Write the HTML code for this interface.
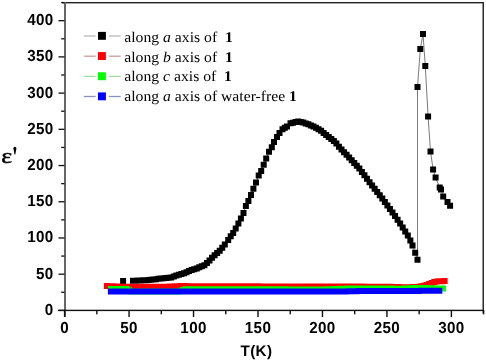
<!DOCTYPE html>
<html><head><meta charset="utf-8"><style>
html,body{margin:0;padding:0;background:#fff;}
body{width:486px;height:362px;overflow:hidden;}
svg{display:block;will-change:transform;filter:blur(0.35px);}
.lab{font-family:"Liberation Sans",sans-serif;font-weight:bold;font-size:15.2px;letter-spacing:0.35px;fill:#000;text-rendering:geometricPrecision;}
.leg{font-family:"Liberation Serif",serif;font-size:15.7px;fill:#000;text-rendering:geometricPrecision;}
</style></head><body>
<svg width="486" height="362" viewBox="0 0 486 362">
<rect width="486" height="362" fill="#fff"/>
<g><polyline points="133.00,280.80 135.55,280.67 138.10,280.55 140.65,280.42 143.20,280.29 145.75,280.14 148.30,279.92 150.85,279.70 153.40,279.47 155.95,279.14 158.50,278.80 161.05,278.46 163.60,278.22 166.15,278.00 168.70,277.77 171.25,277.39 173.80,276.41 176.35,275.48 178.90,274.80 181.45,274.01 184.00,273.15 186.55,272.23 189.10,271.03 191.65,270.11 194.20,269.36 196.75,268.38 199.30,267.37 201.85,266.26 204.40,265.16 206.95,262.95 209.50,260.40 212.05,257.81 214.60,255.21 217.15,252.95 219.70,250.76 222.25,247.64 224.80,244.39 228.20,240.10 230.70,236.20 233.20,232.90 235.70,228.40 238.40,223.50 240.90,218.50 243.50,213.00 245.90,206.10 248.40,201.00 251.00,194.90 253.40,188.80 256.00,182.50 258.70,175.60 261.20,171.10 263.70,164.80 266.20,158.60 269.00,151.80 271.80,147.30 274.00,141.90 277.00,137.00 279.50,133.00 282.50,129.30 284.80,127.80 287.00,126.50 290.50,123.20 293.05,122.63 295.60,122.05 298.15,121.39 300.70,121.89 303.25,122.62 305.80,123.50 308.35,124.37 310.90,125.40 313.45,126.52 316.00,127.80 318.55,129.33 321.10,130.74 323.65,132.95 326.20,134.92 328.75,136.90 331.30,138.89 333.85,140.90 336.40,143.53 338.95,146.67 341.50,149.48 344.05,152.13 346.60,154.79 349.15,157.44 351.70,160.17 354.25,162.91 356.80,165.64 359.35,168.47 361.90,171.92 364.45,175.36 367.00,178.80 369.55,182.20 372.10,185.44 374.65,188.68 377.20,191.91 379.75,195.20 382.30,198.62 384.85,202.04 387.40,205.45 389.95,208.91 392.50,212.49 395.05,216.06 397.60,219.64 400.15,223.40 402.70,227.40 405.25,231.39 407.80,235.39 410.35,240.58 412.50,245.50 415.20,252.70 417.50,259.80 417.50,87.00 420.30,49.00 423.00,33.90 425.30,66.00 428.10,116.60 430.50,151.50 433.10,169.50 435.60,177.50 439.70,187.60 441.00,189.50 443.20,196.50 447.50,202.00 450.10,205.70" fill="none" stroke="#7a7a7a" stroke-width="1"/>
<path d="M120.10 278.00h6.0v6.0h-6.0zM130.00 277.80h6.0v6.0h-6.0zM132.55 277.67h6.0v6.0h-6.0zM135.10 277.55h6.0v6.0h-6.0zM137.65 277.42h6.0v6.0h-6.0zM140.20 277.29h6.0v6.0h-6.0zM142.75 277.14h6.0v6.0h-6.0zM145.30 276.92h6.0v6.0h-6.0zM147.85 276.70h6.0v6.0h-6.0zM150.40 276.47h6.0v6.0h-6.0zM152.95 276.14h6.0v6.0h-6.0zM155.50 275.80h6.0v6.0h-6.0zM158.05 275.46h6.0v6.0h-6.0zM160.60 275.22h6.0v6.0h-6.0zM163.15 275.00h6.0v6.0h-6.0zM165.70 274.77h6.0v6.0h-6.0zM168.25 274.39h6.0v6.0h-6.0zM170.80 273.41h6.0v6.0h-6.0zM173.35 272.48h6.0v6.0h-6.0zM175.90 271.80h6.0v6.0h-6.0zM178.45 271.01h6.0v6.0h-6.0zM181.00 270.15h6.0v6.0h-6.0zM183.55 269.23h6.0v6.0h-6.0zM186.10 268.03h6.0v6.0h-6.0zM188.65 267.11h6.0v6.0h-6.0zM191.20 266.36h6.0v6.0h-6.0zM193.75 265.38h6.0v6.0h-6.0zM196.30 264.37h6.0v6.0h-6.0zM198.85 263.26h6.0v6.0h-6.0zM201.40 262.16h6.0v6.0h-6.0zM203.95 259.95h6.0v6.0h-6.0zM206.50 257.40h6.0v6.0h-6.0zM209.05 254.81h6.0v6.0h-6.0zM211.60 252.21h6.0v6.0h-6.0zM214.15 249.95h6.0v6.0h-6.0zM216.70 247.76h6.0v6.0h-6.0zM219.25 244.64h6.0v6.0h-6.0zM221.80 241.39h6.0v6.0h-6.0zM225.20 237.10h6.0v6.0h-6.0zM227.70 233.20h6.0v6.0h-6.0zM230.20 229.90h6.0v6.0h-6.0zM232.70 225.40h6.0v6.0h-6.0zM235.40 220.50h6.0v6.0h-6.0zM237.90 215.50h6.0v6.0h-6.0zM240.50 210.00h6.0v6.0h-6.0zM242.90 203.10h6.0v6.0h-6.0zM245.40 198.00h6.0v6.0h-6.0zM248.00 191.90h6.0v6.0h-6.0zM250.40 185.80h6.0v6.0h-6.0zM253.00 179.50h6.0v6.0h-6.0zM255.70 172.60h6.0v6.0h-6.0zM258.20 168.10h6.0v6.0h-6.0zM260.70 161.80h6.0v6.0h-6.0zM263.20 155.60h6.0v6.0h-6.0zM266.00 148.80h6.0v6.0h-6.0zM268.80 144.30h6.0v6.0h-6.0zM271.00 138.90h6.0v6.0h-6.0zM274.00 134.00h6.0v6.0h-6.0zM276.50 130.00h6.0v6.0h-6.0zM279.50 126.30h6.0v6.0h-6.0zM281.80 124.80h6.0v6.0h-6.0zM284.00 123.50h6.0v6.0h-6.0zM287.50 120.20h6.0v6.0h-6.0zM290.05 119.63h6.0v6.0h-6.0zM292.60 119.05h6.0v6.0h-6.0zM295.15 118.39h6.0v6.0h-6.0zM297.70 118.89h6.0v6.0h-6.0zM300.25 119.62h6.0v6.0h-6.0zM302.80 120.50h6.0v6.0h-6.0zM305.35 121.37h6.0v6.0h-6.0zM307.90 122.40h6.0v6.0h-6.0zM310.45 123.52h6.0v6.0h-6.0zM313.00 124.80h6.0v6.0h-6.0zM315.55 126.33h6.0v6.0h-6.0zM318.10 127.74h6.0v6.0h-6.0zM320.65 129.95h6.0v6.0h-6.0zM323.20 131.92h6.0v6.0h-6.0zM325.75 133.90h6.0v6.0h-6.0zM328.30 135.89h6.0v6.0h-6.0zM330.85 137.90h6.0v6.0h-6.0zM333.40 140.53h6.0v6.0h-6.0zM335.95 143.67h6.0v6.0h-6.0zM338.50 146.48h6.0v6.0h-6.0zM341.05 149.13h6.0v6.0h-6.0zM343.60 151.79h6.0v6.0h-6.0zM346.15 154.44h6.0v6.0h-6.0zM348.70 157.17h6.0v6.0h-6.0zM351.25 159.91h6.0v6.0h-6.0zM353.80 162.64h6.0v6.0h-6.0zM356.35 165.47h6.0v6.0h-6.0zM358.90 168.92h6.0v6.0h-6.0zM361.45 172.36h6.0v6.0h-6.0zM364.00 175.80h6.0v6.0h-6.0zM366.55 179.20h6.0v6.0h-6.0zM369.10 182.44h6.0v6.0h-6.0zM371.65 185.68h6.0v6.0h-6.0zM374.20 188.91h6.0v6.0h-6.0zM376.75 192.20h6.0v6.0h-6.0zM379.30 195.62h6.0v6.0h-6.0zM381.85 199.04h6.0v6.0h-6.0zM384.40 202.45h6.0v6.0h-6.0zM386.95 205.91h6.0v6.0h-6.0zM389.50 209.49h6.0v6.0h-6.0zM392.05 213.06h6.0v6.0h-6.0zM394.60 216.64h6.0v6.0h-6.0zM397.15 220.40h6.0v6.0h-6.0zM399.70 224.40h6.0v6.0h-6.0zM402.25 228.39h6.0v6.0h-6.0zM404.80 232.39h6.0v6.0h-6.0zM407.35 237.58h6.0v6.0h-6.0zM409.50 242.50h6.0v6.0h-6.0zM412.20 249.70h6.0v6.0h-6.0zM414.50 256.80h6.0v6.0h-6.0zM414.50 84.00h6.0v6.0h-6.0zM417.30 46.00h6.0v6.0h-6.0zM420.00 30.90h6.0v6.0h-6.0zM422.30 63.00h6.0v6.0h-6.0zM425.10 113.60h6.0v6.0h-6.0zM427.50 148.50h6.0v6.0h-6.0zM430.10 166.50h6.0v6.0h-6.0zM432.60 174.50h6.0v6.0h-6.0zM436.70 184.60h6.0v6.0h-6.0zM438.00 186.50h6.0v6.0h-6.0zM440.20 193.50h6.0v6.0h-6.0zM444.50 199.00h6.0v6.0h-6.0zM447.10 202.70h6.0v6.0h-6.0z" fill="#000"/>
<polyline points="106.90,286.00 110.50,286.30 113.09,286.37 115.68,286.43 118.27,286.50 120.86,286.57 123.45,286.63 126.04,286.70 128.63,286.76 131.22,286.80 133.81,286.80 136.40,286.80 138.99,286.80 141.58,286.80 144.17,286.80 146.76,286.80 149.35,286.80 151.94,286.80 154.53,286.80 157.12,286.80 159.71,286.80 162.30,286.80 164.89,286.80 167.48,286.68 170.07,286.56 172.66,286.44 175.25,286.32 177.84,286.20 180.43,286.10 183.02,286.11 185.61,286.12 188.20,286.13 190.79,286.14 193.38,286.14 195.97,286.15 198.56,286.16 201.15,286.17 203.74,286.18 206.33,286.19 208.92,286.20 211.51,286.21 214.10,286.21 216.69,286.22 219.28,286.23 221.87,286.24 224.46,286.25 227.05,286.26 229.64,286.27 232.23,286.27 234.82,286.28 237.41,286.29 240.00,286.30 242.59,286.31 245.18,286.32 247.77,286.33 250.36,286.34 252.95,286.35 255.54,286.36 258.13,286.37 260.72,286.38 263.31,286.39 265.90,286.40 268.49,286.41 271.08,286.42 273.67,286.43 276.26,286.44 278.84,286.45 281.43,286.46 284.02,286.47 286.61,286.47 289.20,286.48 291.79,286.49 294.38,286.50 296.97,286.51 299.56,286.52 302.15,286.53 304.74,286.54 307.33,286.55 309.92,286.56 312.51,286.57 315.10,286.58 317.69,286.59 320.28,286.60 322.87,286.60 325.46,286.60 328.05,286.60 330.64,286.60 333.23,286.60 335.82,286.60 338.41,286.60 341.00,286.60 343.59,286.60 346.18,286.60 348.77,286.60 351.36,286.60 353.95,286.60 356.54,286.60 359.13,286.60 361.72,286.61 364.31,286.63 366.90,286.65 369.49,286.66 372.08,286.68 374.67,286.70 377.26,286.72 379.85,286.73 382.44,286.75 385.03,286.77 387.62,286.78 390.21,286.81 392.80,286.89 395.39,286.98 397.98,287.07 400.57,287.15 403.16,287.24 405.75,287.33 408.34,287.38 410.93,287.25 413.52,287.12 416.11,286.99 418.70,286.76 421.29,286.24 423.88,285.72 426.47,284.94 429.06,283.96 431.65,283.01 434.24,282.07 436.83,281.62 439.42,281.36 442.01,281.21 444.60,281.10" fill="none" stroke="#e88" stroke-width="1"/>
<path d="M103.90 283.00h6.0v6.0h-6.0zM107.50 283.30h6.0v6.0h-6.0zM110.09 283.37h6.0v6.0h-6.0zM112.68 283.43h6.0v6.0h-6.0zM115.27 283.50h6.0v6.0h-6.0zM117.86 283.57h6.0v6.0h-6.0zM120.45 283.63h6.0v6.0h-6.0zM123.04 283.70h6.0v6.0h-6.0zM125.63 283.76h6.0v6.0h-6.0zM128.22 283.80h6.0v6.0h-6.0zM130.81 283.80h6.0v6.0h-6.0zM133.40 283.80h6.0v6.0h-6.0zM135.99 283.80h6.0v6.0h-6.0zM138.58 283.80h6.0v6.0h-6.0zM141.17 283.80h6.0v6.0h-6.0zM143.76 283.80h6.0v6.0h-6.0zM146.35 283.80h6.0v6.0h-6.0zM148.94 283.80h6.0v6.0h-6.0zM151.53 283.80h6.0v6.0h-6.0zM154.12 283.80h6.0v6.0h-6.0zM156.71 283.80h6.0v6.0h-6.0zM159.30 283.80h6.0v6.0h-6.0zM161.89 283.80h6.0v6.0h-6.0zM164.48 283.68h6.0v6.0h-6.0zM167.07 283.56h6.0v6.0h-6.0zM169.66 283.44h6.0v6.0h-6.0zM172.25 283.32h6.0v6.0h-6.0zM174.84 283.20h6.0v6.0h-6.0zM177.43 283.10h6.0v6.0h-6.0zM180.02 283.11h6.0v6.0h-6.0zM182.61 283.12h6.0v6.0h-6.0zM185.20 283.13h6.0v6.0h-6.0zM187.79 283.14h6.0v6.0h-6.0zM190.38 283.14h6.0v6.0h-6.0zM192.97 283.15h6.0v6.0h-6.0zM195.56 283.16h6.0v6.0h-6.0zM198.15 283.17h6.0v6.0h-6.0zM200.74 283.18h6.0v6.0h-6.0zM203.33 283.19h6.0v6.0h-6.0zM205.92 283.20h6.0v6.0h-6.0zM208.51 283.21h6.0v6.0h-6.0zM211.10 283.21h6.0v6.0h-6.0zM213.69 283.22h6.0v6.0h-6.0zM216.28 283.23h6.0v6.0h-6.0zM218.87 283.24h6.0v6.0h-6.0zM221.46 283.25h6.0v6.0h-6.0zM224.05 283.26h6.0v6.0h-6.0zM226.64 283.27h6.0v6.0h-6.0zM229.23 283.27h6.0v6.0h-6.0zM231.82 283.28h6.0v6.0h-6.0zM234.41 283.29h6.0v6.0h-6.0zM237.00 283.30h6.0v6.0h-6.0zM239.59 283.31h6.0v6.0h-6.0zM242.18 283.32h6.0v6.0h-6.0zM244.77 283.33h6.0v6.0h-6.0zM247.36 283.34h6.0v6.0h-6.0zM249.95 283.35h6.0v6.0h-6.0zM252.54 283.36h6.0v6.0h-6.0zM255.13 283.37h6.0v6.0h-6.0zM257.72 283.38h6.0v6.0h-6.0zM260.31 283.39h6.0v6.0h-6.0zM262.90 283.40h6.0v6.0h-6.0zM265.49 283.41h6.0v6.0h-6.0zM268.08 283.42h6.0v6.0h-6.0zM270.67 283.43h6.0v6.0h-6.0zM273.26 283.44h6.0v6.0h-6.0zM275.84 283.45h6.0v6.0h-6.0zM278.43 283.46h6.0v6.0h-6.0zM281.02 283.47h6.0v6.0h-6.0zM283.61 283.47h6.0v6.0h-6.0zM286.20 283.48h6.0v6.0h-6.0zM288.79 283.49h6.0v6.0h-6.0zM291.38 283.50h6.0v6.0h-6.0zM293.97 283.51h6.0v6.0h-6.0zM296.56 283.52h6.0v6.0h-6.0zM299.15 283.53h6.0v6.0h-6.0zM301.74 283.54h6.0v6.0h-6.0zM304.33 283.55h6.0v6.0h-6.0zM306.92 283.56h6.0v6.0h-6.0zM309.51 283.57h6.0v6.0h-6.0zM312.10 283.58h6.0v6.0h-6.0zM314.69 283.59h6.0v6.0h-6.0zM317.28 283.60h6.0v6.0h-6.0zM319.87 283.60h6.0v6.0h-6.0zM322.46 283.60h6.0v6.0h-6.0zM325.05 283.60h6.0v6.0h-6.0zM327.64 283.60h6.0v6.0h-6.0zM330.23 283.60h6.0v6.0h-6.0zM332.82 283.60h6.0v6.0h-6.0zM335.41 283.60h6.0v6.0h-6.0zM338.00 283.60h6.0v6.0h-6.0zM340.59 283.60h6.0v6.0h-6.0zM343.18 283.60h6.0v6.0h-6.0zM345.77 283.60h6.0v6.0h-6.0zM348.36 283.60h6.0v6.0h-6.0zM350.95 283.60h6.0v6.0h-6.0zM353.54 283.60h6.0v6.0h-6.0zM356.13 283.60h6.0v6.0h-6.0zM358.72 283.61h6.0v6.0h-6.0zM361.31 283.63h6.0v6.0h-6.0zM363.90 283.65h6.0v6.0h-6.0zM366.49 283.66h6.0v6.0h-6.0zM369.08 283.68h6.0v6.0h-6.0zM371.67 283.70h6.0v6.0h-6.0zM374.26 283.72h6.0v6.0h-6.0zM376.85 283.73h6.0v6.0h-6.0zM379.44 283.75h6.0v6.0h-6.0zM382.03 283.77h6.0v6.0h-6.0zM384.62 283.78h6.0v6.0h-6.0zM387.21 283.81h6.0v6.0h-6.0zM389.80 283.89h6.0v6.0h-6.0zM392.39 283.98h6.0v6.0h-6.0zM394.98 284.07h6.0v6.0h-6.0zM397.57 284.15h6.0v6.0h-6.0zM400.16 284.24h6.0v6.0h-6.0zM402.75 284.33h6.0v6.0h-6.0zM405.34 284.38h6.0v6.0h-6.0zM407.93 284.25h6.0v6.0h-6.0zM410.52 284.12h6.0v6.0h-6.0zM413.11 283.99h6.0v6.0h-6.0zM415.70 283.76h6.0v6.0h-6.0zM418.29 283.24h6.0v6.0h-6.0zM420.88 282.72h6.0v6.0h-6.0zM423.47 281.94h6.0v6.0h-6.0zM426.06 280.96h6.0v6.0h-6.0zM428.65 280.01h6.0v6.0h-6.0zM431.24 279.07h6.0v6.0h-6.0zM433.83 278.62h6.0v6.0h-6.0zM436.42 278.36h6.0v6.0h-6.0zM439.01 278.21h6.0v6.0h-6.0zM441.60 278.10h6.0v6.0h-6.0z" fill="#f00"/>
<polyline points="111.00,288.90 113.57,288.90 116.15,288.90 118.72,288.90 121.29,288.90 123.87,288.90 126.44,288.90 129.02,290.26 131.59,291.60 134.16,291.60 136.74,291.60 139.31,291.60 141.88,291.60 144.46,291.60 147.03,291.60 149.60,291.60 152.18,291.60 154.75,291.60 157.33,291.60 159.90,291.60 162.47,291.60 165.05,291.60 167.62,291.60 170.19,291.60 172.77,291.60 175.34,291.60 177.91,291.60 180.49,290.85 183.06,290.08 185.64,289.31 188.21,289.20 190.78,289.20 193.36,289.20 195.93,289.20 198.50,289.20 201.08,289.20 203.65,289.20 206.22,289.20 208.80,289.20 211.37,289.20 213.95,289.20 216.52,289.20 219.09,289.20 221.67,289.20 224.24,289.20 226.81,289.20 229.39,289.20 231.96,289.20 234.53,289.20 237.11,289.20 239.68,289.20 242.26,289.20 244.83,289.20 247.40,289.20 249.98,289.20 252.55,289.20 255.12,289.20 257.70,289.20 260.27,289.20 262.84,289.22 265.42,289.24 267.99,289.25 270.57,289.27 273.14,289.29 275.71,289.30 278.29,289.32 280.86,289.34 283.43,289.36 286.01,289.37 288.58,289.39 291.16,289.41 293.73,289.42 296.30,289.44 298.88,289.46 301.45,289.48 304.02,289.49 306.60,289.51 309.17,289.53 311.74,289.54 314.32,289.56 316.89,289.58 319.47,289.60 322.04,289.53 324.61,289.43 327.19,289.34 329.76,289.24 332.33,289.15 334.91,289.05 337.48,288.96 340.05,288.86 342.63,288.77 345.20,288.68 347.78,288.58 350.35,288.50 352.92,288.50 355.50,288.50 358.07,288.50 360.64,288.50 363.22,288.50 365.79,288.50 368.36,288.50 370.94,288.50 373.51,288.50 376.09,288.50 378.66,288.50 381.23,288.51 383.81,288.54 386.38,288.56 388.95,288.59 391.53,288.62 394.10,288.64 396.67,288.67 399.25,288.69 401.82,288.63 404.40,288.52 406.97,288.42 409.54,288.32 412.12,288.22 414.69,288.11 417.26,288.01 419.84,287.91 422.41,287.97 424.98,288.05 427.56,288.13 430.13,288.21 432.71,288.29 435.28,288.37 437.85,288.44 440.43,288.52 443.00,288.60" fill="none" stroke="#8e8" stroke-width="1"/>
<path d="M108.00 285.90h6.0v6.0h-6.0zM110.57 285.90h6.0v6.0h-6.0zM113.15 285.90h6.0v6.0h-6.0zM115.72 285.90h6.0v6.0h-6.0zM118.29 285.90h6.0v6.0h-6.0zM120.87 285.90h6.0v6.0h-6.0zM123.44 285.90h6.0v6.0h-6.0zM126.02 287.26h6.0v6.0h-6.0zM128.59 288.60h6.0v6.0h-6.0zM131.16 288.60h6.0v6.0h-6.0zM133.74 288.60h6.0v6.0h-6.0zM136.31 288.60h6.0v6.0h-6.0zM138.88 288.60h6.0v6.0h-6.0zM141.46 288.60h6.0v6.0h-6.0zM144.03 288.60h6.0v6.0h-6.0zM146.60 288.60h6.0v6.0h-6.0zM149.18 288.60h6.0v6.0h-6.0zM151.75 288.60h6.0v6.0h-6.0zM154.33 288.60h6.0v6.0h-6.0zM156.90 288.60h6.0v6.0h-6.0zM159.47 288.60h6.0v6.0h-6.0zM162.05 288.60h6.0v6.0h-6.0zM164.62 288.60h6.0v6.0h-6.0zM167.19 288.60h6.0v6.0h-6.0zM169.77 288.60h6.0v6.0h-6.0zM172.34 288.60h6.0v6.0h-6.0zM174.91 288.60h6.0v6.0h-6.0zM177.49 287.85h6.0v6.0h-6.0zM180.06 287.08h6.0v6.0h-6.0zM182.64 286.31h6.0v6.0h-6.0zM185.21 286.20h6.0v6.0h-6.0zM187.78 286.20h6.0v6.0h-6.0zM190.36 286.20h6.0v6.0h-6.0zM192.93 286.20h6.0v6.0h-6.0zM195.50 286.20h6.0v6.0h-6.0zM198.08 286.20h6.0v6.0h-6.0zM200.65 286.20h6.0v6.0h-6.0zM203.22 286.20h6.0v6.0h-6.0zM205.80 286.20h6.0v6.0h-6.0zM208.37 286.20h6.0v6.0h-6.0zM210.95 286.20h6.0v6.0h-6.0zM213.52 286.20h6.0v6.0h-6.0zM216.09 286.20h6.0v6.0h-6.0zM218.67 286.20h6.0v6.0h-6.0zM221.24 286.20h6.0v6.0h-6.0zM223.81 286.20h6.0v6.0h-6.0zM226.39 286.20h6.0v6.0h-6.0zM228.96 286.20h6.0v6.0h-6.0zM231.53 286.20h6.0v6.0h-6.0zM234.11 286.20h6.0v6.0h-6.0zM236.68 286.20h6.0v6.0h-6.0zM239.26 286.20h6.0v6.0h-6.0zM241.83 286.20h6.0v6.0h-6.0zM244.40 286.20h6.0v6.0h-6.0zM246.98 286.20h6.0v6.0h-6.0zM249.55 286.20h6.0v6.0h-6.0zM252.12 286.20h6.0v6.0h-6.0zM254.70 286.20h6.0v6.0h-6.0zM257.27 286.20h6.0v6.0h-6.0zM259.84 286.22h6.0v6.0h-6.0zM262.42 286.24h6.0v6.0h-6.0zM264.99 286.25h6.0v6.0h-6.0zM267.57 286.27h6.0v6.0h-6.0zM270.14 286.29h6.0v6.0h-6.0zM272.71 286.30h6.0v6.0h-6.0zM275.29 286.32h6.0v6.0h-6.0zM277.86 286.34h6.0v6.0h-6.0zM280.43 286.36h6.0v6.0h-6.0zM283.01 286.37h6.0v6.0h-6.0zM285.58 286.39h6.0v6.0h-6.0zM288.16 286.41h6.0v6.0h-6.0zM290.73 286.42h6.0v6.0h-6.0zM293.30 286.44h6.0v6.0h-6.0zM295.88 286.46h6.0v6.0h-6.0zM298.45 286.48h6.0v6.0h-6.0zM301.02 286.49h6.0v6.0h-6.0zM303.60 286.51h6.0v6.0h-6.0zM306.17 286.53h6.0v6.0h-6.0zM308.74 286.54h6.0v6.0h-6.0zM311.32 286.56h6.0v6.0h-6.0zM313.89 286.58h6.0v6.0h-6.0zM316.47 286.60h6.0v6.0h-6.0zM319.04 286.53h6.0v6.0h-6.0zM321.61 286.43h6.0v6.0h-6.0zM324.19 286.34h6.0v6.0h-6.0zM326.76 286.24h6.0v6.0h-6.0zM329.33 286.15h6.0v6.0h-6.0zM331.91 286.05h6.0v6.0h-6.0zM334.48 285.96h6.0v6.0h-6.0zM337.05 285.86h6.0v6.0h-6.0zM339.63 285.77h6.0v6.0h-6.0zM342.20 285.68h6.0v6.0h-6.0zM344.78 285.58h6.0v6.0h-6.0zM347.35 285.50h6.0v6.0h-6.0zM349.92 285.50h6.0v6.0h-6.0zM352.50 285.50h6.0v6.0h-6.0zM355.07 285.50h6.0v6.0h-6.0zM357.64 285.50h6.0v6.0h-6.0zM360.22 285.50h6.0v6.0h-6.0zM362.79 285.50h6.0v6.0h-6.0zM365.36 285.50h6.0v6.0h-6.0zM367.94 285.50h6.0v6.0h-6.0zM370.51 285.50h6.0v6.0h-6.0zM373.09 285.50h6.0v6.0h-6.0zM375.66 285.50h6.0v6.0h-6.0zM378.23 285.51h6.0v6.0h-6.0zM380.81 285.54h6.0v6.0h-6.0zM383.38 285.56h6.0v6.0h-6.0zM385.95 285.59h6.0v6.0h-6.0zM388.53 285.62h6.0v6.0h-6.0zM391.10 285.64h6.0v6.0h-6.0zM393.67 285.67h6.0v6.0h-6.0zM396.25 285.69h6.0v6.0h-6.0zM398.82 285.63h6.0v6.0h-6.0zM401.40 285.52h6.0v6.0h-6.0zM403.97 285.42h6.0v6.0h-6.0zM406.54 285.32h6.0v6.0h-6.0zM409.12 285.22h6.0v6.0h-6.0zM411.69 285.11h6.0v6.0h-6.0zM414.26 285.01h6.0v6.0h-6.0zM416.84 284.91h6.0v6.0h-6.0zM419.41 284.97h6.0v6.0h-6.0zM421.98 285.05h6.0v6.0h-6.0zM424.56 285.13h6.0v6.0h-6.0zM427.13 285.21h6.0v6.0h-6.0zM429.71 285.29h6.0v6.0h-6.0zM432.28 285.37h6.0v6.0h-6.0zM434.85 285.44h6.0v6.0h-6.0zM437.43 285.52h6.0v6.0h-6.0zM440.00 285.60h6.0v6.0h-6.0z" fill="#0f0"/>
<polyline points="110.90,291.60 113.49,291.60 116.07,291.60 118.66,291.60 121.24,291.60 123.83,291.59 126.41,291.59 129.00,291.59 131.59,291.59 134.17,291.59 136.76,291.59 139.34,291.59 141.93,291.59 144.52,291.59 147.10,291.58 149.69,291.58 152.27,291.58 154.86,291.58 157.44,291.58 160.03,291.58 162.62,291.58 165.20,291.58 167.79,291.58 170.37,291.57 172.96,291.57 175.55,291.57 178.13,291.57 180.72,291.57 183.30,291.57 185.89,291.57 188.47,291.57 191.06,291.57 193.65,291.56 196.23,291.56 198.82,291.56 201.40,291.56 203.99,291.56 206.58,291.56 209.16,291.56 211.75,291.56 214.33,291.55 216.92,291.55 219.50,291.55 222.09,291.55 224.68,291.55 227.26,291.55 229.85,291.55 232.43,291.55 235.02,291.55 237.61,291.54 240.19,291.54 242.78,291.54 245.36,291.54 247.95,291.54 250.53,291.54 253.12,291.54 255.71,291.54 258.29,291.54 260.88,291.53 263.46,291.53 266.05,291.53 268.64,291.53 271.22,291.53 273.81,291.53 276.39,291.53 278.98,291.53 281.56,291.53 284.15,291.52 286.74,291.52 289.32,291.52 291.91,291.52 294.49,291.52 297.08,291.52 299.67,291.52 302.25,291.52 304.84,291.52 307.42,291.51 310.01,291.51 312.59,291.51 315.18,291.51 317.77,291.51 320.35,291.51 322.94,291.51 325.52,291.51 328.11,291.51 330.70,291.50 333.28,291.50 335.87,291.50 338.45,291.50 341.04,291.48 343.62,291.43 346.21,291.38 348.80,291.32 351.38,291.27 353.97,291.22 356.55,291.17 359.14,291.12 361.73,291.09 364.31,291.08 366.90,291.07 369.48,291.06 372.07,291.05 374.65,291.04 377.24,291.03 379.83,291.02 382.41,291.02 385.00,291.01 387.58,291.00 390.17,290.99 392.76,290.98 395.34,290.97 397.93,290.96 400.51,290.95 403.10,290.94 405.68,290.93 408.27,290.92 410.86,290.91 413.44,290.90 416.03,290.89 418.61,290.88 421.20,290.87 423.79,290.86 426.37,290.85 428.96,290.84 431.54,290.83 434.13,290.82 436.71,290.81 439.30,290.80" fill="none" stroke="#88e" stroke-width="1"/>
<path d="M107.90 288.60h6.0v6.0h-6.0zM110.49 288.60h6.0v6.0h-6.0zM113.07 288.60h6.0v6.0h-6.0zM115.66 288.60h6.0v6.0h-6.0zM118.24 288.60h6.0v6.0h-6.0zM120.83 288.59h6.0v6.0h-6.0zM123.41 288.59h6.0v6.0h-6.0zM126.00 288.59h6.0v6.0h-6.0zM128.59 288.59h6.0v6.0h-6.0zM131.17 288.59h6.0v6.0h-6.0zM133.76 288.59h6.0v6.0h-6.0zM136.34 288.59h6.0v6.0h-6.0zM138.93 288.59h6.0v6.0h-6.0zM141.52 288.59h6.0v6.0h-6.0zM144.10 288.58h6.0v6.0h-6.0zM146.69 288.58h6.0v6.0h-6.0zM149.27 288.58h6.0v6.0h-6.0zM151.86 288.58h6.0v6.0h-6.0zM154.44 288.58h6.0v6.0h-6.0zM157.03 288.58h6.0v6.0h-6.0zM159.62 288.58h6.0v6.0h-6.0zM162.20 288.58h6.0v6.0h-6.0zM164.79 288.58h6.0v6.0h-6.0zM167.37 288.57h6.0v6.0h-6.0zM169.96 288.57h6.0v6.0h-6.0zM172.55 288.57h6.0v6.0h-6.0zM175.13 288.57h6.0v6.0h-6.0zM177.72 288.57h6.0v6.0h-6.0zM180.30 288.57h6.0v6.0h-6.0zM182.89 288.57h6.0v6.0h-6.0zM185.47 288.57h6.0v6.0h-6.0zM188.06 288.57h6.0v6.0h-6.0zM190.65 288.56h6.0v6.0h-6.0zM193.23 288.56h6.0v6.0h-6.0zM195.82 288.56h6.0v6.0h-6.0zM198.40 288.56h6.0v6.0h-6.0zM200.99 288.56h6.0v6.0h-6.0zM203.58 288.56h6.0v6.0h-6.0zM206.16 288.56h6.0v6.0h-6.0zM208.75 288.56h6.0v6.0h-6.0zM211.33 288.55h6.0v6.0h-6.0zM213.92 288.55h6.0v6.0h-6.0zM216.50 288.55h6.0v6.0h-6.0zM219.09 288.55h6.0v6.0h-6.0zM221.68 288.55h6.0v6.0h-6.0zM224.26 288.55h6.0v6.0h-6.0zM226.85 288.55h6.0v6.0h-6.0zM229.43 288.55h6.0v6.0h-6.0zM232.02 288.55h6.0v6.0h-6.0zM234.61 288.54h6.0v6.0h-6.0zM237.19 288.54h6.0v6.0h-6.0zM239.78 288.54h6.0v6.0h-6.0zM242.36 288.54h6.0v6.0h-6.0zM244.95 288.54h6.0v6.0h-6.0zM247.53 288.54h6.0v6.0h-6.0zM250.12 288.54h6.0v6.0h-6.0zM252.71 288.54h6.0v6.0h-6.0zM255.29 288.54h6.0v6.0h-6.0zM257.88 288.53h6.0v6.0h-6.0zM260.46 288.53h6.0v6.0h-6.0zM263.05 288.53h6.0v6.0h-6.0zM265.64 288.53h6.0v6.0h-6.0zM268.22 288.53h6.0v6.0h-6.0zM270.81 288.53h6.0v6.0h-6.0zM273.39 288.53h6.0v6.0h-6.0zM275.98 288.53h6.0v6.0h-6.0zM278.56 288.53h6.0v6.0h-6.0zM281.15 288.52h6.0v6.0h-6.0zM283.74 288.52h6.0v6.0h-6.0zM286.32 288.52h6.0v6.0h-6.0zM288.91 288.52h6.0v6.0h-6.0zM291.49 288.52h6.0v6.0h-6.0zM294.08 288.52h6.0v6.0h-6.0zM296.67 288.52h6.0v6.0h-6.0zM299.25 288.52h6.0v6.0h-6.0zM301.84 288.52h6.0v6.0h-6.0zM304.42 288.51h6.0v6.0h-6.0zM307.01 288.51h6.0v6.0h-6.0zM309.59 288.51h6.0v6.0h-6.0zM312.18 288.51h6.0v6.0h-6.0zM314.77 288.51h6.0v6.0h-6.0zM317.35 288.51h6.0v6.0h-6.0zM319.94 288.51h6.0v6.0h-6.0zM322.52 288.51h6.0v6.0h-6.0zM325.11 288.51h6.0v6.0h-6.0zM327.70 288.50h6.0v6.0h-6.0zM330.28 288.50h6.0v6.0h-6.0zM332.87 288.50h6.0v6.0h-6.0zM335.45 288.50h6.0v6.0h-6.0zM338.04 288.48h6.0v6.0h-6.0zM340.62 288.43h6.0v6.0h-6.0zM343.21 288.38h6.0v6.0h-6.0zM345.80 288.32h6.0v6.0h-6.0zM348.38 288.27h6.0v6.0h-6.0zM350.97 288.22h6.0v6.0h-6.0zM353.55 288.17h6.0v6.0h-6.0zM356.14 288.12h6.0v6.0h-6.0zM358.73 288.09h6.0v6.0h-6.0zM361.31 288.08h6.0v6.0h-6.0zM363.90 288.07h6.0v6.0h-6.0zM366.48 288.06h6.0v6.0h-6.0zM369.07 288.05h6.0v6.0h-6.0zM371.65 288.04h6.0v6.0h-6.0zM374.24 288.03h6.0v6.0h-6.0zM376.83 288.02h6.0v6.0h-6.0zM379.41 288.02h6.0v6.0h-6.0zM382.00 288.01h6.0v6.0h-6.0zM384.58 288.00h6.0v6.0h-6.0zM387.17 287.99h6.0v6.0h-6.0zM389.76 287.98h6.0v6.0h-6.0zM392.34 287.97h6.0v6.0h-6.0zM394.93 287.96h6.0v6.0h-6.0zM397.51 287.95h6.0v6.0h-6.0zM400.10 287.94h6.0v6.0h-6.0zM402.68 287.93h6.0v6.0h-6.0zM405.27 287.92h6.0v6.0h-6.0zM407.86 287.91h6.0v6.0h-6.0zM410.44 287.90h6.0v6.0h-6.0zM413.03 287.89h6.0v6.0h-6.0zM415.61 287.88h6.0v6.0h-6.0zM418.20 287.87h6.0v6.0h-6.0zM420.79 287.86h6.0v6.0h-6.0zM423.37 287.85h6.0v6.0h-6.0zM425.96 287.84h6.0v6.0h-6.0zM428.54 287.83h6.0v6.0h-6.0zM431.13 287.82h6.0v6.0h-6.0zM433.71 287.81h6.0v6.0h-6.0zM436.30 287.80h6.0v6.0h-6.0z" fill="#00f"/></g>
<g><rect x="62" y="2" width="422" height="1.4" fill="#222"/>
<rect x="482.5" y="2" width="1.5" height="311.5" fill="#2a2a2a"/>
<rect x="64" y="2" width="2" height="315" fill="#666"/>
<rect x="58" y="309.7" width="426" height="1.4" fill="#111"/>
<rect x="63.90" y="310" width="1.4" height="7.0" fill="#111"/>
<rect x="96.13" y="310" width="1.4" height="4.3" fill="#111"/>
<rect x="128.37" y="310" width="1.4" height="7.0" fill="#111"/>
<rect x="160.60" y="310" width="1.4" height="4.3" fill="#111"/>
<rect x="192.83" y="310" width="1.4" height="7.0" fill="#111"/>
<rect x="225.06" y="310" width="1.4" height="4.3" fill="#111"/>
<rect x="257.30" y="310" width="1.4" height="7.0" fill="#111"/>
<rect x="289.53" y="310" width="1.4" height="4.3" fill="#111"/>
<rect x="321.76" y="310" width="1.4" height="7.0" fill="#111"/>
<rect x="353.99" y="310" width="1.4" height="4.3" fill="#111"/>
<rect x="386.22" y="310" width="1.4" height="7.0" fill="#111"/>
<rect x="418.46" y="310" width="1.4" height="4.3" fill="#111"/>
<rect x="450.69" y="310" width="1.4" height="7.0" fill="#111"/>
<rect x="482.92" y="310" width="1.4" height="4.3" fill="#111"/>
<rect x="58.50" y="309.75" width="6.0" height="1.3" fill="#111"/>
<rect x="61.20" y="291.64" width="3.3" height="1.3" fill="#111"/>
<rect x="58.50" y="273.53" width="6.0" height="1.3" fill="#111"/>
<rect x="61.20" y="255.43" width="3.3" height="1.3" fill="#111"/>
<rect x="58.50" y="237.32" width="6.0" height="1.3" fill="#111"/>
<rect x="61.20" y="219.21" width="3.3" height="1.3" fill="#111"/>
<rect x="58.50" y="201.10" width="6.0" height="1.3" fill="#111"/>
<rect x="61.20" y="183.00" width="3.3" height="1.3" fill="#111"/>
<rect x="58.50" y="164.89" width="6.0" height="1.3" fill="#111"/>
<rect x="61.20" y="146.78" width="3.3" height="1.3" fill="#111"/>
<rect x="58.50" y="128.67" width="6.0" height="1.3" fill="#111"/>
<rect x="61.20" y="110.57" width="3.3" height="1.3" fill="#111"/>
<rect x="58.50" y="92.46" width="6.0" height="1.3" fill="#111"/>
<rect x="61.20" y="74.35" width="3.3" height="1.3" fill="#111"/>
<rect x="58.50" y="56.24" width="6.0" height="1.3" fill="#111"/>
<rect x="61.20" y="38.14" width="3.3" height="1.3" fill="#111"/>
<rect x="58.50" y="20.03" width="6.0" height="1.3" fill="#111"/>
<rect x="61.20" y="1.92" width="3.3" height="1.3" fill="#111"/></g>
<g class="lab"><text transform="translate(64.60,333.0) scale(1,1.05)" text-anchor="middle">0</text>
<text transform="translate(129.06,333.0) scale(1,1.05)" text-anchor="middle">50</text>
<text transform="translate(193.53,333.0) scale(1,1.05)" text-anchor="middle">100</text>
<text transform="translate(258.00,333.0) scale(1,1.05)" text-anchor="middle">150</text>
<text transform="translate(322.46,333.0) scale(1,1.05)" text-anchor="middle">200</text>
<text transform="translate(386.92,333.0) scale(1,1.05)" text-anchor="middle">250</text>
<text transform="translate(451.39,333.0) scale(1,1.05)" text-anchor="middle">300</text>
<text transform="translate(53.6,314.90) scale(1,1.05)" text-anchor="end">0</text>
<text transform="translate(53.6,278.68) scale(1,1.05)" text-anchor="end">50</text>
<text transform="translate(53.6,242.47) scale(1,1.05)" text-anchor="end">100</text>
<text transform="translate(53.6,206.25) scale(1,1.05)" text-anchor="end">150</text>
<text transform="translate(53.6,170.04) scale(1,1.05)" text-anchor="end">200</text>
<text transform="translate(53.6,133.82) scale(1,1.05)" text-anchor="end">250</text>
<text transform="translate(53.6,97.61) scale(1,1.05)" text-anchor="end">300</text>
<text transform="translate(53.6,61.39) scale(1,1.05)" text-anchor="end">350</text>
<text transform="translate(53.6,25.18) scale(1,1.05)" text-anchor="end">400</text>
<text transform="translate(256.4,356.4)" text-anchor="middle">T(K)</text>
</g>
<g class="leg"><rect x="83.8" y="35.35" width="11.8" height="1.3" fill="#b8b8b8"/>
<rect x="108.9" y="35.35" width="11.8" height="1.3" fill="#b8b8b8"/>
<rect x="98" y="31.90" width="7.9" height="7.9" fill="#000"/>
<text transform="translate(124.3,41.50) scale(1,0.95)" xml:space="preserve">along <tspan font-style="italic">a</tspan> axis of  <tspan font-weight="bold">1</tspan></text>
<rect x="83.8" y="55.55" width="11.8" height="1.3" fill="#cf9c9c"/>
<rect x="108.9" y="55.55" width="11.8" height="1.3" fill="#cf9c9c"/>
<rect x="98" y="52.10" width="7.9" height="7.9" fill="#f00"/>
<text transform="translate(124.3,61.60) scale(1,0.95)" xml:space="preserve">along <tspan font-style="italic">b</tspan> axis of  <tspan font-weight="bold">1</tspan></text>
<rect x="83.8" y="75.75" width="11.8" height="1.3" fill="#a2dca2"/>
<rect x="108.9" y="75.75" width="11.8" height="1.3" fill="#a2dca2"/>
<rect x="98" y="72.30" width="7.9" height="7.9" fill="#0f0"/>
<text transform="translate(124.3,81.30) scale(1,0.95)" xml:space="preserve">along <tspan font-style="italic">c</tspan> axis of  <tspan font-weight="bold">1</tspan></text>
<rect x="83.8" y="95.85" width="11.8" height="1.3" fill="#8e8ec6"/>
<rect x="108.9" y="95.85" width="11.8" height="1.3" fill="#8e8ec6"/>
<rect x="98" y="92.40" width="7.9" height="7.9" fill="#00f"/>
<text transform="translate(124.3,101.30) scale(1,0.95)" xml:space="preserve">along <tspan font-style="italic">a</tspan> axis of water-free <tspan font-weight="bold">1</tspan></text></g>
<text transform="translate(1.2,162.6) scale(1.18,1)" style="font-family:'Liberation Serif',serif;font-size:22px;stroke:#000;stroke-width:0.5px">&#949;</text>
<path d="M13.4 148.4 Q13.4 146.8 14.9 146.8 Q16.4 146.8 16.4 148.4 L15.3 154.6 L14.5 154.6 Z" fill="#000"/>
</svg>
</body></html>
